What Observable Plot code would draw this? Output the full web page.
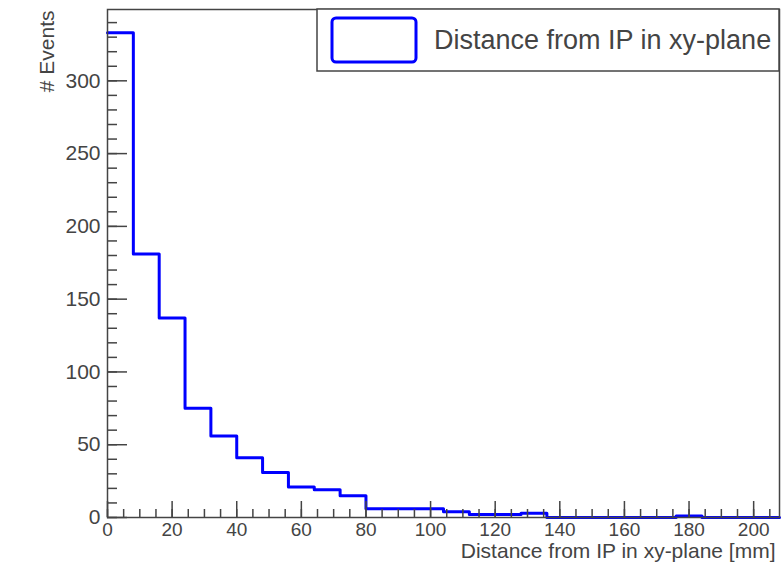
<!DOCTYPE html>
<html><head><meta charset="utf-8">
<script src="https://cdn.jsdelivr.net/npm/d3@7"></script>
<script src="https://cdn.jsdelivr.net/npm/@observablehq/plot@0.6"></script>
<style>body{margin:0;background:#fff;} svg{display:block}</style>
</head><body><div id="chart"></div>
<script>
// Histogram: 26 bins of 8 mm from 0 to 208 mm
const binEdges = [0,8,16,24,32,40,48,56,64,72,80,88,96,104,112,120,128,136,144,152,160,168,176,184,192,200,208];
const counts   = [333,181,137,75,56,41,31,21,19,15,6,6,6,4,2,2,3,0,0,0,0,0,1,0,0,0];
const yMajorTicks = [0,50,100,150,200,250,300];
const yMinorTicks = d3.range(0, 350, 10);
const xMajorTicks = [0,20,40,60,80,100,120,140,160,180,200];
const xMinorTicks = d3.range(0, 209, 5);
const xTitle = "Distance from IP in xy-plane [mm]";
const yTitle = "# Events";
const legendLabel = "Distance from IP in xy-plane";

const steps = binEdges.map((e, i) => ({x: e, y: counts[Math.min(i, counts.length - 1)]}));

const FONT = "'Liberation Sans', Arial, Helvetica, sans-serif";
const INK = "#444";

const plot = Plot.plot({
  width: 784, height: 572,
  marginLeft: 107, marginRight: 5, marginTop: 9, marginBottom: 55,
  x: {domain: [0, 208]},
  y: {domain: [0, 349]},
  style: {fontFamily: FONT, fontSize: "21px", color: INK, background: "#fff"},
  marks: [
    Plot.line(steps, {x: "x", y: "y", curve: "step-after", stroke: "#0000ff", strokeWidth: 3}),
    Plot.axisY(yMajorTicks, {tickSize: 20, dx: 20, tickFormat: () => "", label: null, stroke: INK, strokeWidth: 1.5}),
    Plot.axisY(yMinorTicks, {tickSize: 10, dx: 10, tickFormat: () => "", label: null, stroke: INK, strokeWidth: 1.5}),
    Plot.axisY(yMajorTicks, {tickSize: 0, tickPadding: 7, label: null, fill: INK, fontSize: 21}),
    Plot.axisX(xMajorTicks, {anchor: "bottom", tickSize: 16, dy: -16, tickFormat: () => "", label: null, stroke: INK, strokeWidth: 1.5}),
    Plot.axisX(xMinorTicks, {anchor: "bottom", tickSize: 8, dy: -8, tickFormat: () => "", label: null, stroke: INK, strokeWidth: 1.5}),
    Plot.axisX(xMajorTicks, {anchor: "bottom", tickSize: 0, tickPadding: 5, label: null, fill: INK, fontSize: 19}),
    Plot.frame({stroke: INK, strokeWidth: 1.5}),
    Plot.text([xTitle], {frameAnchor: "bottom-right", text: d => d, textAnchor: "end", dx: -4, dy: 40, fontSize: 21, fill: INK}),
    Plot.text([yTitle], {frameAnchor: "top-left", text: d => d, rotate: -90, textAnchor: "end", dx: -68, dy: 1, fontSize: 21, fill: INK})
  ]
});

// Legend box (ROOT TLegend style)
const svg = d3.select(plot);
const lg = svg.append("g").attr("font-family", FONT);
lg.append("rect").attr("x", 317).attr("y", 9).attr("width", 462).attr("height", 62)
  .attr("fill", "#fff").attr("stroke", INK).attr("stroke-width", 1.5);
lg.append("rect").attr("x", 332).attr("y", 18).attr("width", 84).attr("height", 44).attr("rx", 4)
  .attr("fill", "none").attr("stroke", "#0000ff").attr("stroke-width", 3);
lg.append("text").attr("x", 434).attr("y", 40).attr("dy", "0.35em").attr("font-size", 27)
  .attr("text-anchor", "start").attr("fill", INK).text(legendLabel);

document.getElementById("chart").appendChild(plot);
</script>
</body></html>
